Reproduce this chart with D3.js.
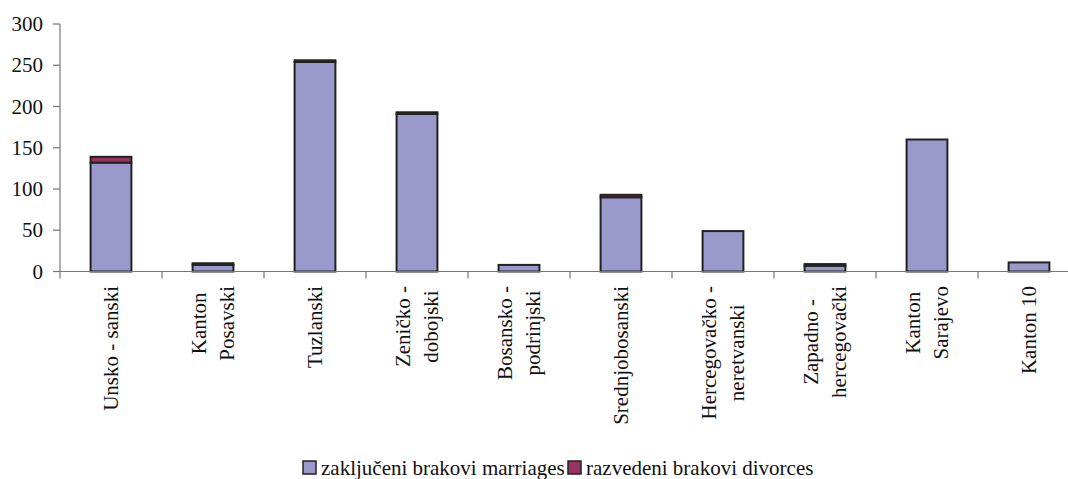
<!DOCTYPE html>
<html>
<head>
<meta charset="utf-8">
<script src="https://cdn.jsdelivr.net/npm/d3@7"></script>
<style>
  html, body { margin: 0; padding: 0; background: #fff; }
  svg { display: block; }
</style>
</head>
<body>
<svg id="chart" width="1068" height="479"></svg>
<script>
const categories = [
  ["Unsko - sanski"],
  ["Kanton", "Posavski"],
  ["Tuzlanski"],
  ["Zeničko -", "dobojski"],
  ["Bosansko -", "podrinjski"],
  ["Srednjobosanski"],
  ["Hercegovačko -", "neretvanski"],
  ["Zapadno -", "hercegovački"],
  ["Kanton", "Sarajevo"],
  ["Kanton 10"]
];
const marriages = [132, 8, 254, 191, 8, 90, 49, 7, 160, 11];
const divorces  = [7, 2, 2, 2, 0, 3, 0, 2, 0, 0];
const seriesNames = ["zaključeni brakovi marriages", "razvedeni brakovi divorces"];
const yTicks = [0, 50, 100, 150, 200, 250, 300];

(function () {
const FONT = "'Liberation Serif', 'DejaVu Serif', serif";
const colors = ["#9999cc", "#993366"];
const svg = d3.select("#chart").attr("font-family", FONT);
const mLeft = 60, mRight = 1080, mTop = 24, mBottom = 271.5;

const keys = categories.map((c, i) => i);
const x = d3.scaleBand().domain(keys).range([mLeft, mRight]).paddingInner(0.6).paddingOuter(0.3);
const y = d3.scaleLinear().domain([0, 300]).range([mBottom, mTop]);

const rows = keys.map(i => ({ i, m: marriages[i], d: divorces[i] }));
const stack = d3.stack().keys(["m", "d"])(rows);

// bars
stack.forEach((layer, li) => {
  svg.append("g").selectAll("rect")
    .data(layer.filter(d => d[1] - d[0] > 0))
    .join("rect")
    .attr("x", d => x(d.data.i))
    .attr("width", x.bandwidth())
    .attr("y", d => y(d[1]))
    .attr("height", d => y(d[0]) - y(d[1]))
    .attr("fill", colors[li])
    .attr("stroke", "#222")
    .attr("stroke-width", 2);
});

// y axis
const gy = svg.append("g");
gy.append("line").attr("x1", mLeft).attr("x2", mLeft).attr("y1", y(300)).attr("y2", y(0))
  .attr("stroke", "#777").attr("stroke-width", 1.2);
gy.selectAll("line.t").data(yTicks).join("line").attr("class", "t")
  .attr("x1", mLeft - 7).attr("x2", mLeft).attr("y1", d => y(d)).attr("y2", d => y(d))
  .attr("stroke", "#777").attr("stroke-width", 1.2);
gy.selectAll("text").data(yTicks).join("text")
  .attr("font-family", FONT).attr("fill", "#111")
  .attr("x", 43).attr("y", d => y(d)).attr("text-anchor", "end")
  .attr("dominant-baseline", "central").attr("font-size", 21).text(d => d);

// x axis
const step = x.step();
const gx = svg.append("g");
gx.append("line").attr("x1", mLeft).attr("x2", mRight).attr("y1", y(0)).attr("y2", y(0))
  .attr("stroke", "#777").attr("stroke-width", 1.2);
gx.selectAll("line.t").data(d3.range(categories.length + 1)).join("line").attr("class", "t")
  .attr("x1", d => mLeft + d * step).attr("x2", d => mLeft + d * step)
  .attr("y1", y(0)).attr("y2", y(0) + 7)
  .attr("stroke", "#777").attr("stroke-width", 1.2);

// category labels (rotated, lines centered within block anchored at top)
categories.forEach((lines, i) => {
  const cx = x(i) + x.bandwidth() / 2;
  const g = gx.append("g");
  const n = lines.length;
  const texts = lines.map((ln, k) => {
    const off = (k - (n - 1) / 2) * 27.5;
    return g.append("text")
      .attr("font-family", FONT).attr("fill", "#111")
      .attr("font-size", 21)
      .attr("dominant-baseline", "central")
      .attr("text-anchor", "middle")
      .attr("data-x", cx + off)
      .text(ln);
  });
  const lens = texts.map(t => t.node().getComputedTextLength());
  const L = d3.max(lens);
  const c = 286 + L / 2;
  texts.forEach(t => {
    const tx = +t.attr("data-x");
    t.attr("transform", `translate(${tx},${c}) rotate(-90)`);
  });
});

// legend
const legend = svg.append("g");
const lx = [303, 568];
seriesNames.forEach((name, k) => {
  legend.append("rect").attr("x", lx[k]).attr("y", 461).attr("width", 13).attr("height", 13)
    .attr("fill", colors[k]).attr("stroke", "#222").attr("stroke-width", 1.5);
  legend.append("text").attr("font-family", FONT).attr("fill", "#111")
    .attr("x", lx[k] + 18).attr("y", 475).attr("font-size", 21).text(name);
});
})();
</script>
</body>
</html>
